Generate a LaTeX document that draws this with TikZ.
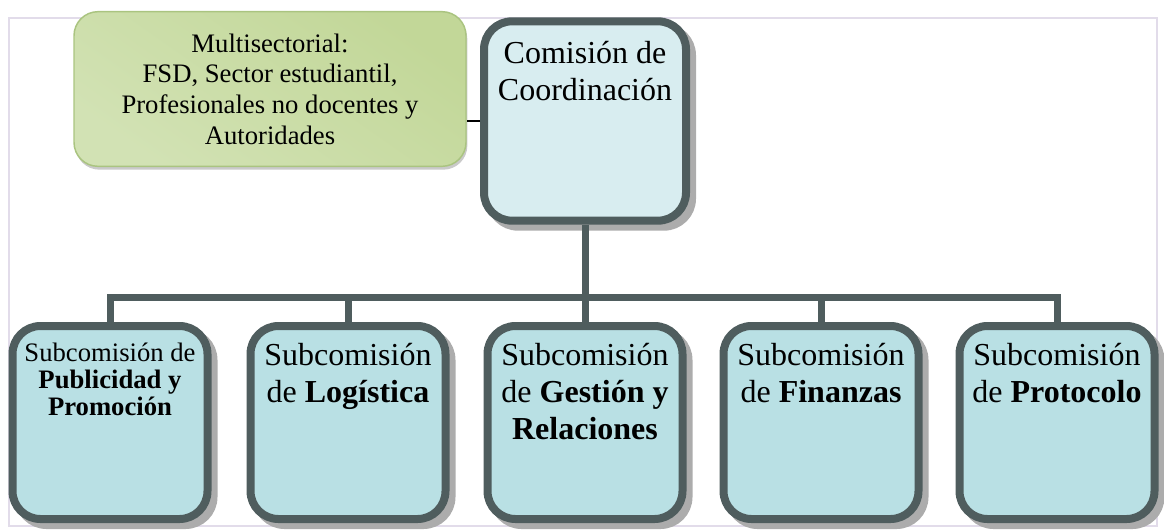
\documentclass[tikz,border=0pt]{standalone}
\usepackage{fontspec}
\setmainfont{Liberation Serif}
\usetikzlibrary{shadows}
\definecolor{outl}{RGB}{79,93,94}
\definecolor{comfill}{RGB}{216,237,240}
\definecolor{subfill}{RGB}{185,224,228}
\definecolor{grnborder}{RGB}{170,196,128}
\definecolor{grndark}{RGB}{194,215,152}
\definecolor{grnmid}{RGB}{210,226,180}
\definecolor{grnlight}{RGB}{236,242,224}
\definecolor{framecol}{RGB}{226,220,234}
\definecolor{shadowcol}{RGB}{172,172,172}
\begin{document}
\begin{tikzpicture}[x=0.75pt,y=-0.75pt,
  box/.style={draw=outl, line width=6pt, rounded corners=21pt,
    minimum width=146.25pt, minimum height=144.75pt, inner sep=0pt,
    drop shadow={shadow xshift=4.5pt, shadow yshift=-4.5pt, fill=shadowcol,
      draw=shadowcol, line width=6pt, opacity=1}},
  subbox/.style={box, fill=subfill},
  conn/.style={draw=outl, line width=5.25pt},
  bigtxt/.style={font=\fontsize{24}{27.75}\selectfont, align=center, anchor=north, inner sep=0pt},
  smalltxt/.style={font=\fontsize{20}{20.25}\selectfont, align=center, anchor=north, inner sep=0pt},
]
\useasboundingbox (0,0) rectangle (1164,529);
\draw[framecol, line width=1.1pt] (9,18) rectangle (1157,526);

\node[draw=grnborder, line width=1.1pt, rounded corners=18pt,
  minimum width=294pt, minimum height=116pt, inner sep=0pt,
  top color=grndark, middle color=grnlight, bottom color=grnmid, shading angle=-35,
  drop shadow={shadow xshift=1pt, shadow yshift=-2.5pt, fill=black!35, opacity=0.6},
  font=\fontsize{20}{23}\selectfont, align=center] (multi) at (270,89)
  {Multisectorial:\\FSD, Sector estudiantil,\\Profesionales no docentes y\\Autoridades};

\node[box, fill=comfill, minimum width=151.5pt, minimum height=149.5pt] (com) at (585,121) {};
\node[bigtxt] (comtxt) at ([yshift=-18pt]com.north) {Comisión de\\Coordinación};

\node[subbox] (pub) at (110,422.5) {};
\node[subbox] (log) at (348,422.5) {};
\node[subbox] (gest) at (585,422.5) {};
\node[subbox] (fin) at (821,422.5) {};
\node[subbox] (prot) at (1057,422.5) {};

\node[smalltxt] (pubtxt) at ([yshift=-15.75pt]pub.north) {Subcomisión de\\\textbf{Publicidad y}\\\textbf{Promoción}};
\node[bigtxt] (logtxt) at ([yshift=-15.75pt]log.north) {Subcomisión\\de \textbf{Logística}};
\node[bigtxt] (gesttxt) at ([yshift=-15.75pt]gest.north) {Subcomisión\\de \textbf{Gestión y}\\\textbf{Relaciones}};
\node[bigtxt] (fintxt) at ([yshift=-15.75pt]fin.north) {Subcomisión\\de \textbf{Finanzas}};
\node[bigtxt] (prottxt) at ([yshift=-15.75pt]prot.north) {Subcomisión\\de \textbf{Protocolo}};

\coordinate (bus) at (585,297);
\draw[conn] (com.south) -- (gest.north);
\draw[conn] (pub.north) -- (pub.north |- bus) -- (prot.north |- bus) -- (prot.north);
\draw[conn] (log.north) -- (log.north |- bus);
\draw[conn] (fin.north) -- (fin.north |- bus);
\draw[black, line width=1.1pt] (com.west) -- (com.west -| multi.east);
\end{tikzpicture}
\end{document}
